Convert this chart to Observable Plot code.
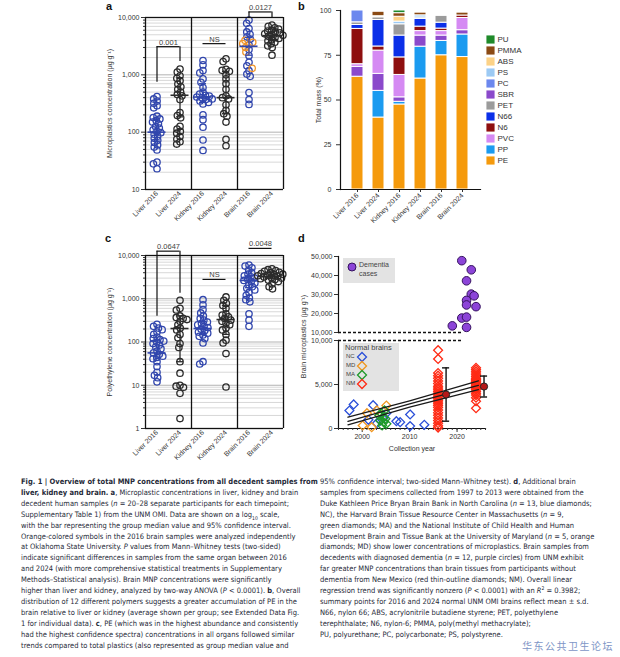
<!DOCTYPE html>
<html>
<head>
<meta charset="utf-8">
<script src="https://cdn.jsdelivr.net/npm/d3@7"></script>
<script src="https://cdn.jsdelivr.net/npm/@observablehq/plot@0.6"></script>
<style>
  html, body { margin: 0; padding: 0; background: #fff; }
  #fig { position: relative; width: 620px; height: 657px; overflow: hidden; background: #fff;
         font-family: "Liberation Sans", Arial, sans-serif; color: #2a2a2a; }
  .panel { position: absolute; }
  .panel svg { overflow: visible; }
  .letter { position: absolute; font: bold 11px "Liberation Sans", Arial, sans-serif; color: #111; }
  .cap { position: absolute; font-family: "Liberation Sans Narrow", "DejaVu Sans Condensed", "Liberation Sans", sans-serif;
         font-size: 7.5px; line-height: 10.9px; color: #262a38; white-space: nowrap; }
  .cap sub, .cap sup { font-size: 5px; line-height: 0; }
  .legbox { position: absolute; background: #e3e3e3; font-size: 7px; color: #444; }
  .legbox .t { position: absolute; white-space: nowrap; }
  .legbox svg { position: absolute; overflow: visible; }
  .ylab { position: absolute; transform: rotate(-90deg); transform-origin: center; text-align: center;
          font-size: 7px; color: #333; white-space: nowrap; }
  .wm { position: absolute; left: 522px; top: 640px; font-family: "Noto Sans CJK SC", sans-serif; white-space: nowrap;
        font-size: 10px; line-height: 12px; color: #7d95c6; letter-spacing: 1.5px; }
</style>
</head>
<body>
<div id="fig">
  <div class="letter" style="left:106px;top:0px">a</div>
  <div class="letter" style="left:298px;top:0px">b</div>
  <div class="letter" style="left:105px;top:232px">c</div>
  <div class="letter" style="left:298px;top:232px">d</div>

  <!-- legends of panel d (behind the plots) -->
  <div class="legbox" style="left:343px;top:258px;width:52px;height:25px">
    <svg width="10" height="10" style="left:4px;top:4px"><circle cx="5" cy="5" r="4" fill="#8c44d8" stroke="#35135f" stroke-width="1"/></svg>
    <div class="t" style="left:16px;top:3px">Dementia</div>
    <div class="t" style="left:16px;top:12px">cases</div>
  </div>
  <div class="legbox" style="left:343px;top:343px;width:56px;height:48px">
    <div class="t" style="left:2px;top:0px;font-size:7.5px">Normal brains</div>
    <div class="t" style="left:3px;top:10px;font-size:6px">NC</div>
    <div class="t" style="left:3px;top:19px;font-size:6px">MD</div>
    <div class="t" style="left:3px;top:28px;font-size:6px">MA</div>
    <div class="t" style="left:3px;top:37px;font-size:6px">NM</div>
    <svg width="10" height="10" style="left:14px;top:9px"><path d="M5,0.5L9.5,5L5,9.5L0.5,5Z" fill="none" stroke="#2a4fd8" stroke-width="1.3"/></svg>
    <svg width="10" height="10" style="left:14px;top:18px"><path d="M5,0.5L9.5,5L5,9.5L0.5,5Z" fill="none" stroke="#f0961e" stroke-width="1.3"/></svg>
    <svg width="10" height="10" style="left:14px;top:27px"><path d="M5,0.5L9.5,5L5,9.5L0.5,5Z" fill="none" stroke="#1e9a2a" stroke-width="1.3"/></svg>
    <svg width="10" height="10" style="left:14px;top:36px"><path d="M5,0.5L9.5,5L5,9.5L0.5,5Z" fill="none" stroke="#ff2a14" stroke-width="1.3"/></svg>
  </div>

  <div id="pa" class="panel" style="left:100px;top:0px"></div>
  <div id="pb" class="panel" style="left:300px;top:0px"></div>
  <div id="pbl" class="panel" style="left:484px;top:33px"></div>
  <div id="pc" class="panel" style="left:100px;top:232px"></div>
  <div id="pdu" class="panel" style="left:300px;top:246px"></div>
  <div id="pdl" class="panel" style="left:300px;top:336px"></div>
  <div class="ylab" style="left:228px;top:332px;width:150px">Brain microplastics (μg g⁻¹)</div>

  <div class="cap" style="left:21px;top:477px">
    <div><b>Fig. 1 | Overview of total MNP concentrations from all decedent samples from</b></div>
    <div><b>liver, kidney and brain.</b> <b>a</b>, Microplastic concentrations in liver, kidney and brain</div>
    <div>decedent human samples (<i>n</i> = 20–28 separate participants for each timepoint;</div>
    <div>Supplementary Table 1) from the UNM OMI. Data are shown on a log<sub>10</sub> scale,</div>
    <div>with the bar representing the group median value and 95% confidence interval.</div>
    <div>Orange-colored symbols in the 2016 brain samples were analyzed independently</div>
    <div>at Oklahoma State University. <i>P</i> values from Mann–Whitney tests (two-sided)</div>
    <div>indicate significant differences in samples from the same organ between 2016</div>
    <div>and 2024 (with more comprehensive statistical treatments in Supplementary</div>
    <div>Methods–Statistical analysis). Brain MNP concentrations were significantly</div>
    <div>higher than liver and kidney, analyzed by two-way ANOVA (<i>P</i> &lt; 0.0001). <b>b</b>, Overall</div>
    <div>distribution of 12 different polymers suggests a greater accumulation of PE in the</div>
    <div>brain relative to liver or kidney (average shown per group; see Extended Data Fig.</div>
    <div>1 for individual data). <b>c</b>, PE (which was in the highest abundance and consistently</div>
    <div>had the highest confidence spectra) concentrations in all organs followed similar</div>
    <div>trends compared to total plastics (also represented as group median value and</div>
  </div>
  <div class="cap" style="left:320px;top:477px">
    <div>95% confidence interval; two-sided Mann–Whitney test). <b>d</b>, Additional brain</div>
    <div>samples from specimens collected from 1997 to 2013 were obtained from the</div>
    <div>Duke Kathleen Price Bryan Brain Bank in North Carolina (<i>n</i> = 13, blue diamonds;</div>
    <div>NC), the Harvard Brain Tissue Resource Center in Massachusetts (<i>n</i> = 9,</div>
    <div>green diamonds; MA) and the National Institute of Child Health and Human</div>
    <div>Development Brain and Tissue Bank at the University of Maryland (<i>n</i> = 5, orange</div>
    <div>diamonds; MD) show lower concentrations of microplastics. Brain samples from</div>
    <div>decedents with diagnosed dementia (<i>n</i> = 12, purple circles) from UNM exhibit</div>
    <div>far greater MNP concentrations than brain tissues from participants without</div>
    <div>dementia from New Mexico (red thin-outline diamonds; NM). Overall linear</div>
    <div>regression trend was significantly nonzero (<i>P</i> &lt; 0.0001) with an <i>R</i><sup>2</sup> = 0.3982;</div>
    <div>summary points for 2016 and 2024 normal UNM OMI brains reflect mean ± s.d.</div>
    <div>N66, nylon 66; ABS, acrylonitrile butadiene styrene; PET, polyethylene</div>
    <div>terephthalate; N6, nylon-6; PMMA, poly(methyl methacrylate);</div>
    <div>PU, polyurethane; PC, polycarbonate; PS, polystyrene.</div>
  </div>
  <div class="wm">华东公共卫生论坛</div>
</div>

<script>
// ---------------- DATA ----------------
const groups = ["Liver 2016", "Liver 2024", "Kidney 2016", "Kidney 2024", "Brain 2016", "Brain 2024"];
const groupYear = ["2016", "2024", "2016", "2024", "2016", "2024"];

// Panel a: total microplastics (µg/g)
const aLiver2016 = [416, 380, 349, 318, 290, 266, 190, 180, 170, 160, 150, 140, 125, 118, 110, 103, 98, 92, 85, 78, 72, 66, 60, 55, 49, 30, 28, 23];
const aLiver2024 = [1260, 1120, 960, 870, 790, 690, 620, 560, 500, 455, 430, 370, 220, 195, 178, 126, 113, 103, 96, 84, 76, 68, 62];
const aKidney2016 = [1780, 1490, 1190, 1080, 850, 740, 600, 500, 460, 440, 425, 410, 400, 380, 370, 350, 330, 310, 200, 165, 122, 73, 48];
const aKidney2024 = [1900, 1700, 1250, 1200, 1150, 1000, 850, 700, 560, 430, 400, 380, 300, 240, 210, 190, 150, 75, 58];
const aBrain2016 = [9000, 7900, 6400, 5600, 5100, 4600, 4200, 3350, 2770, 2160, 1650, 1440, 1180, 1030, 940, 490, 370, 305];
const aBrain2016OSU = [4000, 3700, 3500, 3000, 2500, 1300];
const aBrain2024 = [7400, 7000, 6600, 6300, 6000, 5800, 5600, 5400, 5200, 5000, 4900, 4700, 4500, 4300, 4100, 3900, 3700, 3500, 3200, 3000, 2200];
const aMedian = [100, 440, 410, 400, 3150, 4800];
const aLow = [70, 185, 330, 210, 2200, 4100];
const aHigh = [170, 880, 700, 1150, 4500, 5600];
const aBracketFrom = ["Liver 2016", "Kidney 2016", "Brain 2016"];
const aBracketTo = ["Liver 2024", "Kidney 2024", "Brain 2024"];
const aBracketLabel = ["0.001", "NS", "0.0127"];
const aBracketTop = [3100, 3500, 12500];
const aBracketBaseFrom = [740, 3500, 10000];
const aBracketBaseTo = [1700, 3500, 10000];

// Panel c: polyethylene (µg/g)
const cLiver2016 = [256, 230, 210, 193, 170, 150, 130, 120, 113, 105, 100, 92, 85, 77, 70, 62, 56, 52, 47, 44, 41, 35, 27, 20, 17, 15, 12];
const cLiver2024 = [920, 600, 550, 400, 370, 350, 330, 300, 250, 210, 190, 150, 125, 92, 75, 35, 19, 10, 9.5, 9, 6.5, 1.7];
const cKidney2016 = [950, 720, 560, 470, 400, 350, 320, 290, 270, 250, 230, 215, 200, 185, 170, 160, 145, 135, 120, 95, 35, 31];
const cKidney2024 = [1100, 920, 780, 700, 600, 450, 420, 380, 350, 320, 300, 270, 250, 210, 190, 150, 110, 95, 54, 9.1];
const cBrain2016 = [6000, 5700, 5200, 4600, 4000, 3700, 3400, 3200, 3000, 2800, 2650, 2500, 2300, 2100, 1900, 1750, 1600, 1400, 1200, 1050, 950, 850, 450, 320, 230];
const cBrain2024 = [4900, 4700, 4500, 4300, 4100, 4000, 3800, 3700, 3600, 3500, 3400, 3300, 3200, 3100, 3000, 2900, 2800, 2700, 2500, 2200, 1900, 1700];
const cMedian = [56, 205, 205, 330, 2650, 3300];
const cLow = [45, 35, 150, 150, 1800, 2900];
const cHigh = [110, 400, 300, 700, 3400, 3700];
const cBracketLabel = ["0.0647", "NS", "0.0048"];
const cBracketTop = [12600, 2800, 14600];
const cBracketBaseFrom = [392, 2800, 14600];
const cBracketBaseTo = [1333, 2800, 14600];

// Panel b: polymer composition (% of total mass)
const polymers = ["PU", "PMMA", "ABS", "PS", "PC", "SBR", "PET", "N66", "N6", "PVC", "PP", "PE"];
const polymerColors = ["#1f8a2a", "#8b4a14", "#fcd287", "#9ccaf4", "#6c88ee", "#8b49cb", "#9b9b9b", "#0b2fe8", "#8e0f0f", "#d58af3", "#1b9bf0", "#f59a0c"];
const stackOrder = ["PE", "PP", "SBR", "PVC", "N6", "N66", "PET", "PC", "PS", "ABS", "PMMA", "PU"];
const massLiver2016 = [63, 0, 5.5, 1.5, 19.7, 2.2, 1.5, 6.6, 0, 0, 0, 0];
const massLiver2024 = [40.2, 14.9, 9.5, 13, 2.3, 14.8, 1.5, 0, 0, 0.6, 2.5, 0];
const massKidney2016 = [47.5, 1.5, 2.5, 12.5, 9.8, 12.2, 6.3, 0, 1.5, 2.7, 2, 1.5];
const massKidney2024 = [62, 17.8, 6.2, 2.5, 2.5, 4.3, 0.8, 0, 1.2, 0, 1.5, 0];
const massBrain2016 = [75, 8, 3, 2.5, 1.4, 3.3, 3.8, 0, 0, 0, 0, 0];
const massBrain2024 = [74, 12.6, 2.4, 6.8, 1.4, 0, 0, 0, 0, 0, 1.6, 0];

// Panel d
const dementiaYear = [2021, 2023, 2022, 2023, 2023.6, 2022, 2022, 2024, 2021, 2022, 2019, 2022];
const dementiaValue = [47800, 43000, 37200, 30200, 29300, 26900, 24500, 23600, 17600, 18100, 13500, 12700];
const ncYear = [1997.3, 1998.2, 2001.3, 2002.3, 2003.1, 2005.1, 2007.2, 2008.0, 2010.1, 2010.1, 2013.1, 2004.6, 2003.8];
const ncValue = [2040, 2730, 990, 2650, 600, 1740, 830, 720, 1590, 270, 420, 1250, 900];
const mdYear = [2001.0, 2000.1, 2002.0, 2003.1, 2005.1];
const mdValue = [1740, 340, 150, 2050, 2610];
const maYear = [2004.0, 2004.4, 2003.8, 2004.5, 2005.1, 2004.2, 2004.7, 2003.6, 2004.9];
const maValue = [1740, 1290, 910, 720, 530, 340, 2050, 1480, 1100];
const nm2016Value = [8900, 7900, 6300, 6000, 5700, 5400, 5100, 4800, 4600, 4400, 4200, 4000, 3800, 3600, 3400, 3200, 3000, 2800, 2600, 2400, 2100, 1800, 1500, 1200, 900, 600, 300, 100];
const nm2024Value = [6900, 6700, 6500, 6300, 6100, 5900, 5700, 5600, 5500, 5400, 5300, 5200, 5100, 5000, 4900, 4800, 4700, 4600, 4500, 4400, 4200, 4000, 3800, 3500, 3100, 2300];
const summaryYear = [2016, 2024];
const summaryMean = [3860, 4770];
const summarySd = [3030, 1190];
const regYear = [1997, 2010, 2024.5];
const regFit = [800, 2800, 4900];
const regUpper = [1280, 3150, 5420];
const regLower = [420, 2420, 4420];
const sites = ["NC", "MD", "MA", "NM"];
const siteColors = ["#2a4fd8", "#f0961e", "#1e9a2a", "#ff2a14"];
const breakValue = [10000];
const breakFrom = 1995, breakTo = 2021;

// ---------------- BUILD ----------------
const font = "Liberation Sans, Arial, sans-serif";
const baseStyle = {fontFamily: font, fontSize: "7px", color: "#333", background: "transparent", overflow: "visible"};
const pts = (group, kind, arr) => arr.map(value => ({group, kind, value}));

function organPanel(o) {
  const stats = groups.map((g, i) => ({group: g, kind: groupYear[i], median: o.median[i], low: o.low[i], high: o.high[i]}));
  const legs = [], halves = [], labels = [];
  o.label.forEach((lab, i) => {
    if (o.baseFrom[i] !== o.top[i]) legs.push({group: aBracketFrom[i], y1: o.baseFrom[i], y2: o.top[i]});
    if (o.baseTo[i] !== o.top[i]) legs.push({group: aBracketTo[i], y1: o.baseTo[i], y2: o.top[i]});
    halves.push({group: aBracketFrom[i], y: o.top[i], x1: 0.5, x2: 1});
    halves.push({group: aBracketTo[i], y: o.top[i], x1: 0, x2: 0.5});
    labels.push({group: aBracketFrom[i], y: o.top[i], text: lab});
  });
  const frameEdges = [{group: "Liver 2016", side: 0}, {group: "Kidney 2016", side: 0}, {group: "Brain 2016", side: 0}, {group: "Brain 2024", side: 1}];
  const minor = o.decades.flatMap(d => [2, 3, 4, 5, 6, 7, 8, 9].map(k => k * d));
  const major = [...o.decades, o.domain[1]];
  return Plot.plot({
    width: 200, height: o.height, marginLeft: 45, marginRight: 17, marginTop: o.marginTop, marginBottom: o.marginBottom,
    style: baseStyle,
    fx: {domain: groups, padding: 0, round: false, axis: "bottom", tickRotate: -45, tickSize: 0, tickPadding: 3, label: null},
    x: {domain: [0, 1], axis: null},
    y: {type: "log", domain: o.domain},
    color: {domain: ["2016", "2024", "OSU"], range: ["#3146ad", "#2b2b2b", "#f0952a"]},
    marks: [
      Plot.ruleY(minor, {stroke: "#d4d4d4", strokeWidth: 0.9}),
      Plot.ruleY(major, {stroke: "#b2b2b2", strokeWidth: 1}),
      Plot.axisY({ticks: minor, tickSize: 2, tickFormat: () => "", label: null}),
      Plot.axisY({ticks: major, tickSize: 4, tickPadding: 2, tickFormat: d3.format(","), label: o.ylabel,
                  labelAnchor: "center", labelOffset: 38, labelArrow: false}),
      Plot.dot(o.data, Plot.dodgeX({anchor: "middle", padding: -2.4},
               {fx: "group", y: "value", r: 3.2, stroke: "kind", strokeWidth: 1.3, fill: "none"})),
      Plot.ruleX(stats, {fx: "group", x: null, y1: "low", y2: "high", stroke: "kind", strokeWidth: 1.3}),
      Plot.tickY(stats, {fx: "group", y: "median", stroke: "kind", strokeWidth: 1.6, insetLeft: 2.5, insetRight: 2.5}),
      Plot.tickY(stats, {fx: "group", y: "low", stroke: "kind", strokeWidth: 1.3, insetLeft: 8, insetRight: 8}),
      Plot.tickY(stats, {fx: "group", y: "high", stroke: "kind", strokeWidth: 1.3, insetLeft: 8, insetRight: 8}),
      Plot.ruleY(o.domain, {stroke: "#111", strokeWidth: 1.3}),
      Plot.ruleX(frameEdges, {fx: "group", x: "side", stroke: "#111", strokeWidth: 1.3}),
      Plot.ruleX(legs, {fx: "group", x: null, y1: "y1", y2: "y2", stroke: "#111", strokeWidth: 1.2}),
      Plot.ruleY(halves, {fx: "group", y: "y", x1: "x1", x2: "x2", stroke: "#111", strokeWidth: 1.2}),
      Plot.text(labels, {fx: "group", x: () => 1, y: "y", text: "text", lineAnchor: "bottom", dy: -2, fontSize: 7.5, fill: "#444"})
    ]
  });
}

// Panel a
const aData = [
  ...pts("Liver 2016", "2016", aLiver2016), ...pts("Liver 2024", "2024", aLiver2024),
  ...pts("Kidney 2016", "2016", aKidney2016), ...pts("Kidney 2024", "2024", aKidney2024),
  ...pts("Brain 2016", "2016", aBrain2016), ...pts("Brain 2016", "OSU", aBrain2016OSU), ...pts("Brain 2024", "2024", aBrain2024)
];
document.getElementById("pa").append(organPanel({
  data: aData, median: aMedian, low: aLow, high: aHigh,
  label: aBracketLabel, top: aBracketTop, baseFrom: aBracketBaseFrom, baseTo: aBracketBaseTo,
  domain: [10, 10000], decades: [10, 100, 1000], height: 235, marginTop: 17, marginBottom: 46,
  ylabel: "Microplastics concentration (μg g⁻¹)"
}));

// Panel c
const cData = [
  ...pts("Liver 2016", "2016", cLiver2016), ...pts("Liver 2024", "2024", cLiver2024),
  ...pts("Kidney 2016", "2016", cKidney2016), ...pts("Kidney 2024", "2024", cKidney2024),
  ...pts("Brain 2016", "2016", cBrain2016), ...pts("Brain 2024", "2024", cBrain2024)
];
document.getElementById("pc").append(organPanel({
  data: cData, median: cMedian, low: cLow, high: cHigh,
  label: cBracketLabel, top: cBracketTop, baseFrom: cBracketBaseFrom, baseTo: cBracketBaseTo,
  domain: [1, 10000], decades: [1, 10, 100, 1000], height: 238, marginTop: 23, marginBottom: 42,
  ylabel: "Polyethylene concentration (μg g⁻¹)"
}));

// Panel b
const masses = [massLiver2016, massLiver2024, massKidney2016, massKidney2024, massBrain2016, massBrain2024];
const bData = groups.flatMap((g, i) => stackOrder.map((p, j) => ({group: g, polymer: p, value: masses[i][j]}))).filter(d => d.value > 0);
const barPlot = Plot.plot({
  width: 200, height: 235, marginLeft: 40, marginRight: 20, marginTop: 10, marginBottom: 46,
  style: baseStyle,
  x: {domain: groups, padding: 0.42, label: null, tickRotate: -45, tickSize: 3, tickPadding: 2},
  y: {domain: [0, 100], ticks: [0, 25, 50, 75, 100], tickSize: 4, label: "Total mass (%)", labelAnchor: "center", labelOffset: 24, labelArrow: false},
  color: {domain: polymers, range: polymerColors},
  marks: [
    Plot.barY(bData, {x: "group", y: "value", fill: "polymer", order: stackOrder, stroke: "white", strokeWidth: 1}),
    Plot.frame({anchor: "left", stroke: "#111", strokeWidth: 1.2}),
    Plot.frame({anchor: "bottom", stroke: "#111", strokeWidth: 1.2})
  ]
});
document.getElementById("pb").append(barPlot);

// Legend of b
document.getElementById("pbl").append(Plot.plot({
  width: 60, height: 132, margin: 0,
  style: {...baseStyle, fontSize: "8px"},
  x: {axis: null}, y: {domain: polymers, axis: null},
  color: {domain: polymers, range: polymerColors},
  marks: [
    Plot.dot(polymers, {y: d => d, fill: d => d, symbol: "square", r: 4.6, frameAnchor: "left", dx: 6}),
    Plot.text(polymers, {y: d => d, text: d => d, frameAnchor: "left", textAnchor: "start", dx: 13, fill: "#333"})
  ]
}));

// Panel d upper (dementia)
const dementia = dementiaYear.map((year, i) => ({year, value: dementiaValue[i]}));
const breakLines = breakValue.map(value => ({value, from: breakFrom, to: breakTo}));
document.getElementById("pdu").append(Plot.plot({
  width: 200, height: 90, marginLeft: 38, marginRight: 15, marginTop: 10, marginBottom: 4,
  style: baseStyle,
  x: {domain: [1995, 2026], axis: null},
  y: {domain: [10000, 50000], ticks: [10000, 20000, 30000, 40000, 50000], tickFormat: d3.format(","), tickSize: 4, tickPadding: 2, label: null},
  marks: [
    Plot.frame({anchor: "left", stroke: "#111", strokeWidth: 1.2}),
    Plot.ruleY(breakLines, {y: "value", x1: "from", x2: "to", stroke: "#111", strokeWidth: 1.3, strokeDasharray: "3,2"}),
    Plot.dot(dementia, {x: "year", y: "value", fill: "#8c44d8", stroke: "#35135f", strokeWidth: 1, r: 4.3})
  ]
}));

// Panel d lower (normal brains)
const normal = [
  ...ncYear.map((year, i) => ({site: "NC", year, value: ncValue[i]})),
  ...mdYear.map((year, i) => ({site: "MD", year, value: mdValue[i]})),
  ...maYear.map((year, i) => ({site: "MA", year, value: maValue[i]})),
  ...nm2016Value.map(value => ({site: "NM", year: 2016, value})),
  ...nm2024Value.map(value => ({site: "NM", year: 2024, value}))
];
const reg = [
  ...regYear.map((year, i) => ({band: "upper", year, value: regUpper[i]})),
  ...regYear.map((year, i) => ({band: "fit", year, value: regFit[i]})),
  ...regYear.map((year, i) => ({band: "lower", year, value: regLower[i]}))
];
const summary = summaryYear.map((year, i) => ({year, mean: summaryMean[i], lo: summaryMean[i] - summarySd[i], hi: summaryMean[i] + summarySd[i]}));
const minorYears = d3.range(1995, 2027);
document.getElementById("pdl").append(Plot.plot({
  width: 200, height: 122, marginLeft: 38, marginRight: 15, marginTop: 4, marginBottom: 30,
  style: baseStyle,
  x: {domain: [1995, 2026]},
  y: {domain: [0, 10000], ticks: [0, 5000, 10000], tickFormat: d3.format(","), tickSize: 4, tickPadding: 2, label: null},
  color: {domain: sites, range: siteColors},
  marks: [
    Plot.frame({anchor: "left", stroke: "#111", strokeWidth: 1.2}),
    Plot.frame({anchor: "bottom", stroke: "#111", strokeWidth: 1.2}),
    Plot.axisX({ticks: minorYears, tickSize: 2, tickFormat: () => "", label: null}),
    Plot.axisX({ticks: [2000, 2010, 2020], tickSize: 4, tickPadding: 2, tickFormat: "d",
                label: "Collection year", labelAnchor: "center", labelOffset: 22, labelArrow: false, fontSize: 7}),
    Plot.ruleY(breakLines, {y: "value", x1: "from", x2: "to", stroke: "#111", strokeWidth: 1.3, strokeDasharray: "3,2"}),
    Plot.dot(normal, {x: "year", y: "value", stroke: "site", symbol: "diamond2", r: 4, strokeWidth: 1.3}),
    Plot.line(reg, {x: "year", y: "value", z: "band", stroke: "#1a1a1a", strokeWidth: 1.3}),
    Plot.ruleX(summary, {x: "year", y1: "lo", y2: "hi", dx: 8, stroke: "#111", strokeWidth: 1.4}),
    Plot.ruleY(summary, {y: "lo", x1: d => d.year - 0.75, x2: d => d.year + 0.75, dx: 8, stroke: "#111", strokeWidth: 1.4}),
    Plot.ruleY(summary, {y: "hi", x1: d => d.year - 0.75, x2: d => d.year + 0.75, dx: 8, stroke: "#111", strokeWidth: 1.4}),
    Plot.dot(summary, {x: "year", y: "mean", dx: 8, r: 3.6, fill: "#b51818", stroke: "#222", strokeWidth: 1})
  ]
}));
</script>
</body>
</html>
